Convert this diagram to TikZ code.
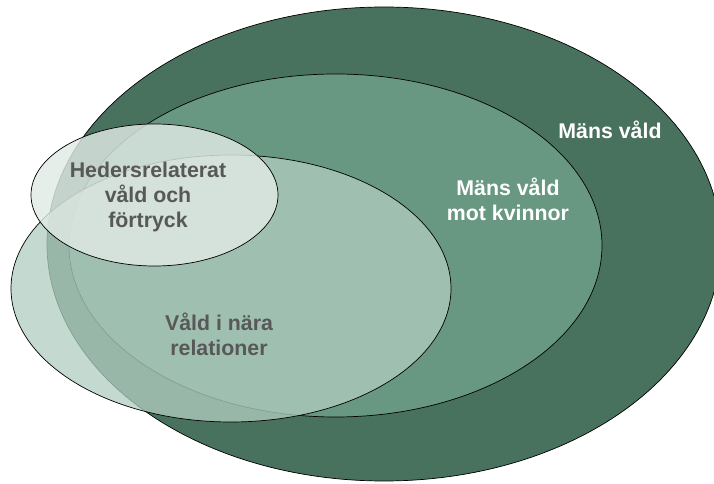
\documentclass[tikz,border=0pt]{standalone}
\usepackage{fontspec}
\setmainfont{Liberation Sans}
\definecolor{vertfonce}{RGB}{73,114,94}
\definecolor{vertmoyen}{RGB}{104,151,130}
\definecolor{vertclair}{RGB}{177,206,193}
\definecolor{vertpale}{RGB}{224,234,229}
\definecolor{gristexte}{RGB}{88,88,88}
\begin{document}
\begin{tikzpicture}[x=0.03cm, y=-0.03cm,
  bord/.style={draw=black, line width=0.6pt},
  etiquette/.style={font=\bfseries\fontsize{18.2}{21.6}\selectfont, align=center, inner sep=0pt}]

  % Cadre de l'image
  \useasboundingbox (0,0) rectangle (714,484);
  \clip (0,0) rectangle (714,484);

  % Paramètres
  \def\opac{0.76}

  % Ellipse extérieure
  \filldraw[bord, fill=vertfonce] (384,244) ellipse (337 and 237);

  % Ellipse moyenne
  \filldraw[bord, fill=vertmoyen] (335.5,245.5) ellipse (266.5 and 171.5);

  % Ellipse claire (transparente)
  \fill[vertclair, fill opacity=\opac] (231,288.5) ellipse (220 and 133.5);
  \draw[bord] (231,288.5) ellipse (220 and 133.5);

  % Petite ellipse (transparente)
  \fill[vertpale, fill opacity=0.82] (154.5,195) ellipse (123.5 and 71);
  \draw[bord] (154.5,195) ellipse (123.5 and 71);

  % Textes
  \node[etiquette, text=white] (mv) at (610,130) {Mäns våld};
  \node[etiquette, text=white] (mvk) at (508,199) {Mäns våld\\mot kvinnor};
  \node[etiquette, text=gristexte] (hed) at (148,197) {Hedersrelaterat\\våld och\\förtryck};
  \node[etiquette, text=gristexte] (vnr) at (219,334) {Våld i nära\\relationer};

\end{tikzpicture}
\end{document}
